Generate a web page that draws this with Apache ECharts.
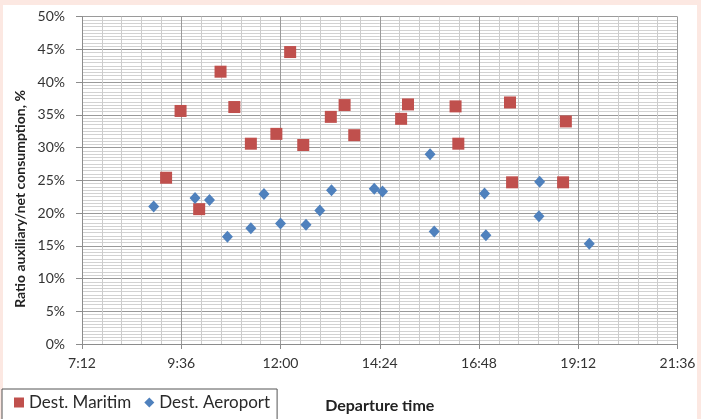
<!DOCTYPE html>
<html><head><meta charset="utf-8">
<script src="https://cdn.jsdelivr.net/npm/echarts@6/dist/echarts.min.js"></script>
<style>html,body{margin:0;padding:0;background:#fff}#c{width:701px;height:419px}</style>
</head><body><div id="c"></div>
<script>
const maritimTimes = ["9:14","9:35","10:02","10:33","10:53","11:17","11:54","12:14","12:33","13:13","13:33","13:47","14:55","15:05","16:14","16:18","17:33","17:36","18:50","18:54"];
const maritimValues = [25.4,35.6,20.6,41.6,36.2,30.6,32.1,44.6,30.4,34.7,36.5,31.9,34.4,36.6,36.3,30.6,36.9,24.7,24.7,34.0];
const aeroportTimes = ["8:56","9:56","10:17","10:43","11:17","11:36","12:00","12:37","12:57","13:14","14:16","14:28","15:37","15:43","16:56","16:58","18:16","18:15","19:28"];
const aeroportValues = [21.0,22.3,22.0,16.4,17.7,22.9,18.4,18.2,20.4,23.5,23.7,23.3,29.0,17.2,23.0,16.6,24.8,19.5,15.3];
const xTickLabels = ["7:12","9:36","12:00","14:24","16:48","19:12","21:36"];
const yTickLabels = ["0%","5%","10%","15%","20%","25%","30%","35%","40%","45%","50%"];

function toMin(s){const p=s.split(':');return (+p[0])*60+(+p[1]);}
function fmtMin(v){const h=Math.floor(v/60),m=Math.round(v-h*60);return h+':'+(m<10?'0':'')+m;}
const xMin = toMin(xTickLabels[0]), xMax = toMin(xTickLabels[xTickLabels.length-1]);
const xStep = toMin(xTickLabels[1]) - xMin;

const FONT = 'Lato, "Open Sans", sans-serif';
const chart = echarts.init(document.getElementById('c'), null, {renderer:'canvas'});
chart.setOption({
  backgroundColor:'#ffffff',
  animation:false,
  grid:{left:82, right:23.5, top:16.7, bottom:69, containLabel:false},
  xAxis:{
    type:'value', min:xMin, max:xMax, interval:xStep,
    name:'Departure time', nameLocation:'middle', nameGap:54,
    nameTextStyle:{fontFamily:FONT, fontWeight:'bold', fontSize:16, color:'#222'},
    axisLine:{show:true, onZero:false, lineStyle:{color:'#8c8c8c', width:1}},
    axisTick:{show:true, length:5, lineStyle:{color:'#8c8c8c'}},
    axisLabel:{fontFamily:FONT, fontSize:14, color:'#333', margin:12, formatter:function(v){const i=Math.round((v-xMin)/xStep);return xTickLabels[i]||fmtMin(v);}},
    splitLine:{show:true, lineStyle:{color:'#9a9a9a', width:1}},
    minorTick:{show:false, splitNumber:5},
    minorSplitLine:{show:true, lineStyle:{color:'#cccccc', width:1}}
  },
  yAxis:{
    type:'value', min:0, max:50, interval:5,
    axisLine:{show:true, lineStyle:{color:'#8c8c8c', width:1}},
    axisTick:{show:true, length:6, lineStyle:{color:'#8c8c8c'}},
    axisLabel:{fontFamily:FONT, fontSize:14, color:'#333', margin:17, formatter:function(v){const i=Math.round(v/5);return yTickLabels[i];}},
    splitLine:{show:true, lineStyle:{color:'#9a9a9a', width:1}},
    minorTick:{show:false, splitNumber:10},
    minorSplitLine:{show:true, lineStyle:{color:'#d2d2d2', width:1}}
  },
  legend:{
    left:2, top:389, orient:'horizontal',
    data:[{name:'Dest. Maritim', icon:'rect'},{name:'Dest. Aeroport', icon:'diamond'}],
    itemWidth:10, itemHeight:10, itemGap:13,
    padding:[5,7,20,12],
    borderColor:'#555', borderWidth:1, backgroundColor:'#fff',
    textStyle:{fontFamily:FONT, fontSize:17, color:'#2a2a2a'}
  },
  series:[
    {name:'Dest. Maritim', type:'scatter', symbol:'rect', symbolSize:12,
     itemStyle:{color:'#c0504d', opacity:1},
     data:maritimTimes.map((t,i)=>[toMin(t), maritimValues[i]])},
    {name:'Dest. Aeroport', type:'scatter', symbol:'diamond', symbolSize:[11,12],
     itemStyle:{color:'#4f81bd', opacity:1},
     data:aeroportTimes.map((t,i)=>[toMin(t), aeroportValues[i]])}
  ],
  graphic:[
    {type:'rect', shape:{x:0,y:0,width:701,height:5}, style:{fill:'#fce8e2'}, silent:true},
    {type:'rect', shape:{x:0,y:0,width:3,height:419}, style:{fill:'#fce8e2'}, silent:true},
    {type:'rect', shape:{x:697,y:0,width:4,height:419}, style:{fill:'#fce8e2'}, silent:true},
    {type:'text', x:20, y:199, rotation:Math.PI/2,
     style:{text:'Ratio auxiliary/net consumption, %', fontFamily:FONT, fontWeight:'bold', fontSize:14, fill:'#222', align:'center', verticalAlign:'middle'}}
  ]
});
</script></body></html>
